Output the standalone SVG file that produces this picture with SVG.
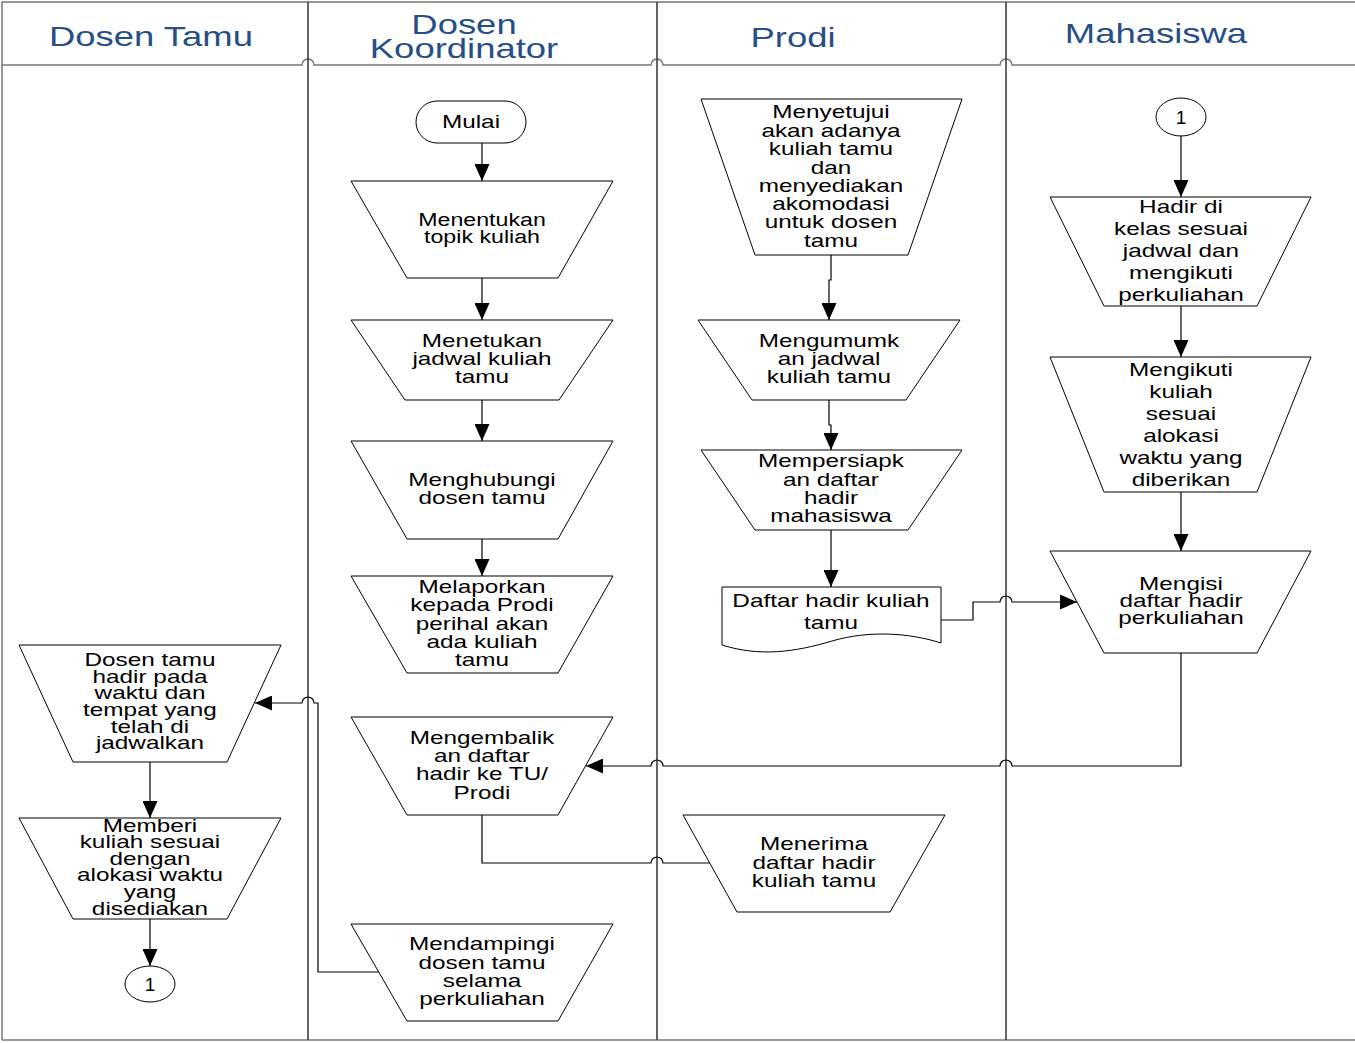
<svg xmlns="http://www.w3.org/2000/svg" width="1355" height="1043" viewBox="0 0 1355 1043">
<style>
.lane{stroke:#333;stroke-width:1.5;fill:none}
.frame{stroke:#777;stroke-width:1.5;fill:none}
.shape{fill:#fff;stroke:#000;stroke-width:1}
.conn{fill:none;stroke:#000;stroke-width:1.2}
.arr{marker-end:url(#ah)}
.t{font-family:"Liberation Sans",Arial,sans-serif;font-size:19px;fill:#000;text-anchor:middle}
.h{font-family:"Liberation Sans",Arial,sans-serif;font-size:27px;fill:#264F87;text-anchor:middle}
</style>
<defs>
<marker id="ah" markerWidth="17" markerHeight="15" refX="17" refY="7.5" orient="auto" markerUnits="userSpaceOnUse">
<path d="M0,0 L17,7.5 L0,15 z" fill="#000"/>
</marker>
</defs>
<rect x="0" y="0" width="1355" height="1043" fill="#fff"/>
<g id="lanes">
<path class="frame" d="M2,1040 V2 H1355"/>
<path class="frame" d="M2,1040 H1355"/>
<path class="frame" d="M2,65 H302 A6,6 0 0 1 314,65 H651 A6,6 0 0 1 663,65 H1000 A6,6 0 0 1 1012,65 H1355"/>
<line class="lane" x1="308" y1="2" x2="308" y2="1040"/>
<line class="lane" x1="657" y1="2" x2="657" y2="1040"/>
<line class="lane" x1="1006" y1="2" x2="1006" y2="1040"/>
<g transform="translate(151 0) scale(1.35 1) translate(-151 0)"><text class="h" x="151" y="46">Dosen Tamu</text></g>
<g transform="translate(464 0) scale(1.35 1) translate(-464 0)"><text class="h" x="464" y="34">Dosen</text><text class="h" x="464" y="58">Koordinator</text></g>
<g transform="translate(793 0) scale(1.35 1) translate(-793 0)"><text class="h" x="793" y="47">Prodi</text></g>
<g transform="translate(1156 0) scale(1.35 1) translate(-1156 0)"><text class="h" x="1156" y="43">Mahasiswa</text></g>
</g>
<g id="connectors">
<path class="conn arr" d="M482,143 V181"/>
<path class="conn arr" d="M482,278 V320"/>
<path class="conn arr" d="M482,400 V441"/>
<path class="conn arr" d="M482,539 V576"/>
<path class="conn arr" d="M831,255 V280 H829 V320"/>
<path class="conn arr" d="M829,400 V425 H831 V450"/>
<path class="conn arr" d="M831,530 V587"/>
<path class="conn arr" d="M941,620 H973 V602 H1000 A6,6 0 0 1 1012,602 H1077"/>
<path class="conn arr" d="M1181,136 V197"/>
<path class="conn arr" d="M1181,306 V357"/>
<path class="conn arr" d="M1181,492 V551"/>
<path class="conn arr" d="M1181,653 V766 H1012 A6,6 0 0 0 1000,766 H663 A6,6 0 0 0 651,766 H586"/>
<path class="conn" d="M482,815 V863 H651 A6,6 0 0 1 663,863 H710"/>
<path class="conn arr" d="M379,972 H318 V703 H314 A6,6 0 0 0 302,703 H255"/>
<path class="conn arr" d="M150,762 V818"/>
<path class="conn arr" d="M150,919 V966"/>
</g>
<g id="mulai"><rect class="shape" x="416" y="101" width="110" height="42" rx="21" ry="21"/>
<g transform="translate(471 0) scale(1.28 1) translate(-471 0)"><text class="t" x="471" y="128">Mulai</text></g></g>
<g id="menentukan"><path class="shape" d="M351,181 H613 L558,278 H407 Z"/>
<g transform="translate(482 0) scale(1.22 1) translate(-482 0)"><text class="t" x="482"><tspan x="482" y="226">Menentukan</tspan><tspan x="482" y="243">topik kuliah</tspan></text></g></g>
<g id="menetukan-jadwal"><path class="shape" d="M351,320 H613 L559,400 H405 Z"/>
<g transform="translate(482 0) scale(1.28 1) translate(-482 0)"><text class="t" x="482"><tspan x="482" y="347">Menetukan</tspan><tspan x="482" y="365">jadwal kuliah</tspan><tspan x="482" y="383">tamu</tspan></text></g></g>
<g id="menghubungi"><path class="shape" d="M351,441 H613 L558,539 H407 Z"/>
<g transform="translate(482 0) scale(1.28 1) translate(-482 0)"><text class="t" x="482"><tspan x="482" y="486">Menghubungi</tspan><tspan x="482" y="504">dosen tamu</tspan></text></g></g>
<g id="melaporkan"><path class="shape" d="M351,576 H613 L558,673 H407 Z"/>
<g transform="translate(482 0) scale(1.28 1) translate(-482 0)"><text class="t" x="482"><tspan x="482" y="593">Melaporkan</tspan><tspan x="482" y="611">kepada Prodi</tspan><tspan x="482" y="630">perihal akan</tspan><tspan x="482" y="648">ada kuliah</tspan><tspan x="482" y="666">tamu</tspan></text></g></g>
<g id="mengembalikan"><path class="shape" d="M351,717 H613 L558,815 H407 Z"/>
<g transform="translate(482 0) scale(1.28 1) translate(-482 0)"><text class="t" x="482"><tspan x="482" y="744">Mengembalik</tspan><tspan x="482" y="762">an daftar</tspan><tspan x="482" y="780">hadir ke TU/</tspan><tspan x="482" y="799">Prodi</tspan></text></g></g>
<g id="mendampingi"><path class="shape" d="M351,924 H613 L558,1021 H407 Z"/>
<g transform="translate(482 0) scale(1.28 1) translate(-482 0)"><text class="t" x="482"><tspan x="482" y="950">Mendampingi</tspan><tspan x="482" y="969">dosen tamu</tspan><tspan x="482" y="987">selama</tspan><tspan x="482" y="1005">perkuliahan</tspan></text></g></g>
<g id="menyetujui"><path class="shape" d="M701,99 H962 L908,255 H755 Z"/>
<g transform="translate(831 0) scale(1.28 1) translate(-831 0)"><text class="t" x="831"><tspan x="831" y="118">Menyetujui</tspan><tspan x="831" y="137">akan adanya</tspan><tspan x="831" y="155">kuliah tamu</tspan><tspan x="831" y="174">dan</tspan><tspan x="831" y="192">menyediakan</tspan><tspan x="831" y="210">akomodasi</tspan><tspan x="831" y="228">untuk dosen</tspan><tspan x="831" y="247">tamu</tspan></text></g></g>
<g id="mengumumkan"><path class="shape" d="M698,320 H960 L906,400 H752 Z"/>
<g transform="translate(829 0) scale(1.28 1) translate(-829 0)"><text class="t" x="829"><tspan x="829" y="347">Mengumumk</tspan><tspan x="829" y="365">an jadwal</tspan><tspan x="829" y="383">kuliah tamu</tspan></text></g></g>
<g id="mempersiapkan"><path class="shape" d="M701,450 H962 L908,530 H755 Z"/>
<g transform="translate(831 0) scale(1.28 1) translate(-831 0)"><text class="t" x="831"><tspan x="831" y="467">Mempersiapk</tspan><tspan x="831" y="486">an daftar</tspan><tspan x="831" y="504">hadir</tspan><tspan x="831" y="522">mahasiswa</tspan></text></g></g>
<g id="daftar-hadir"><path class="shape" d="M722,587 H941 V643 C910,633 870,630 832,641 C795,652 760,657 722,645 Z"/>
<g transform="translate(831 0) scale(1.28 1) translate(-831 0)"><text class="t" x="831"><tspan x="831" y="607">Daftar hadir kuliah</tspan><tspan x="831" y="629">tamu</tspan></text></g></g>
<g id="menerima"><path class="shape" d="M683,815 H945 L890,912 H737 Z"/>
<g transform="translate(814 0) scale(1.28 1) translate(-814 0)"><text class="t" x="814"><tspan x="814" y="850">Menerima</tspan><tspan x="814" y="869">daftar hadir</tspan><tspan x="814" y="887">kuliah tamu</tspan></text></g></g>
<g id="konektor-1-mhs"><ellipse class="shape" cx="1181" cy="117" rx="25" ry="19"/>
<text class="t" x="1181" y="124">1</text></g>
<g id="hadir-di-kelas"><path class="shape" d="M1050,197 H1311 L1257,306 H1104 Z"/>
<g transform="translate(1181 0) scale(1.28 1) translate(-1181 0)"><text class="t" x="1181"><tspan x="1181" y="213">Hadir di</tspan><tspan x="1181" y="235">kelas sesuai</tspan><tspan x="1181" y="257">jadwal dan</tspan><tspan x="1181" y="279">mengikuti</tspan><tspan x="1181" y="301">perkuliahan</tspan></text></g></g>
<g id="mengikuti"><path class="shape" d="M1050,357 H1311 L1257,492 H1104 Z"/>
<g transform="translate(1181 0) scale(1.28 1) translate(-1181 0)"><text class="t" x="1181"><tspan x="1181" y="376">Mengikuti</tspan><tspan x="1181" y="398">kuliah</tspan><tspan x="1181" y="420">sesuai</tspan><tspan x="1181" y="442">alokasi</tspan><tspan x="1181" y="464">waktu yang</tspan><tspan x="1181" y="486">diberikan</tspan></text></g></g>
<g id="mengisi"><path class="shape" d="M1050,551 H1311 L1257,653 H1104 Z"/>
<g transform="translate(1181 0) scale(1.28 1) translate(-1181 0)"><text class="t" x="1181"><tspan x="1181" y="590">Mengisi</tspan><tspan x="1181" y="607">daftar hadir</tspan><tspan x="1181" y="624">perkuliahan</tspan></text></g></g>
<g id="dosen-hadir"><path class="shape" d="M19,645 H281 L227,762 H73 Z"/>
<g transform="translate(150 0) scale(1.28 1) translate(-150 0)"><text class="t" x="150"><tspan x="150" y="666">Dosen tamu</tspan><tspan x="150" y="683">hadir pada</tspan><tspan x="150" y="699">waktu dan</tspan><tspan x="150" y="716">tempat yang</tspan><tspan x="150" y="733">telah di</tspan><tspan x="150" y="749">jadwalkan</tspan></text></g></g>
<g id="memberi"><path class="shape" d="M19,818 H281 L227,919 H73 Z"/>
<g transform="translate(150 0) scale(1.28 1) translate(-150 0)"><text class="t" x="150"><tspan x="150" y="832">Memberi</tspan><tspan x="150" y="848">kuliah sesuai</tspan><tspan x="150" y="865">dengan</tspan><tspan x="150" y="881">alokasi waktu</tspan><tspan x="150" y="898">yang</tspan><tspan x="150" y="915">disediakan</tspan></text></g></g>
<g id="konektor-1-dosen"><ellipse class="shape" cx="150" cy="984" rx="25" ry="18"/>
<text class="t" x="150" y="991">1</text></g>
</svg>
